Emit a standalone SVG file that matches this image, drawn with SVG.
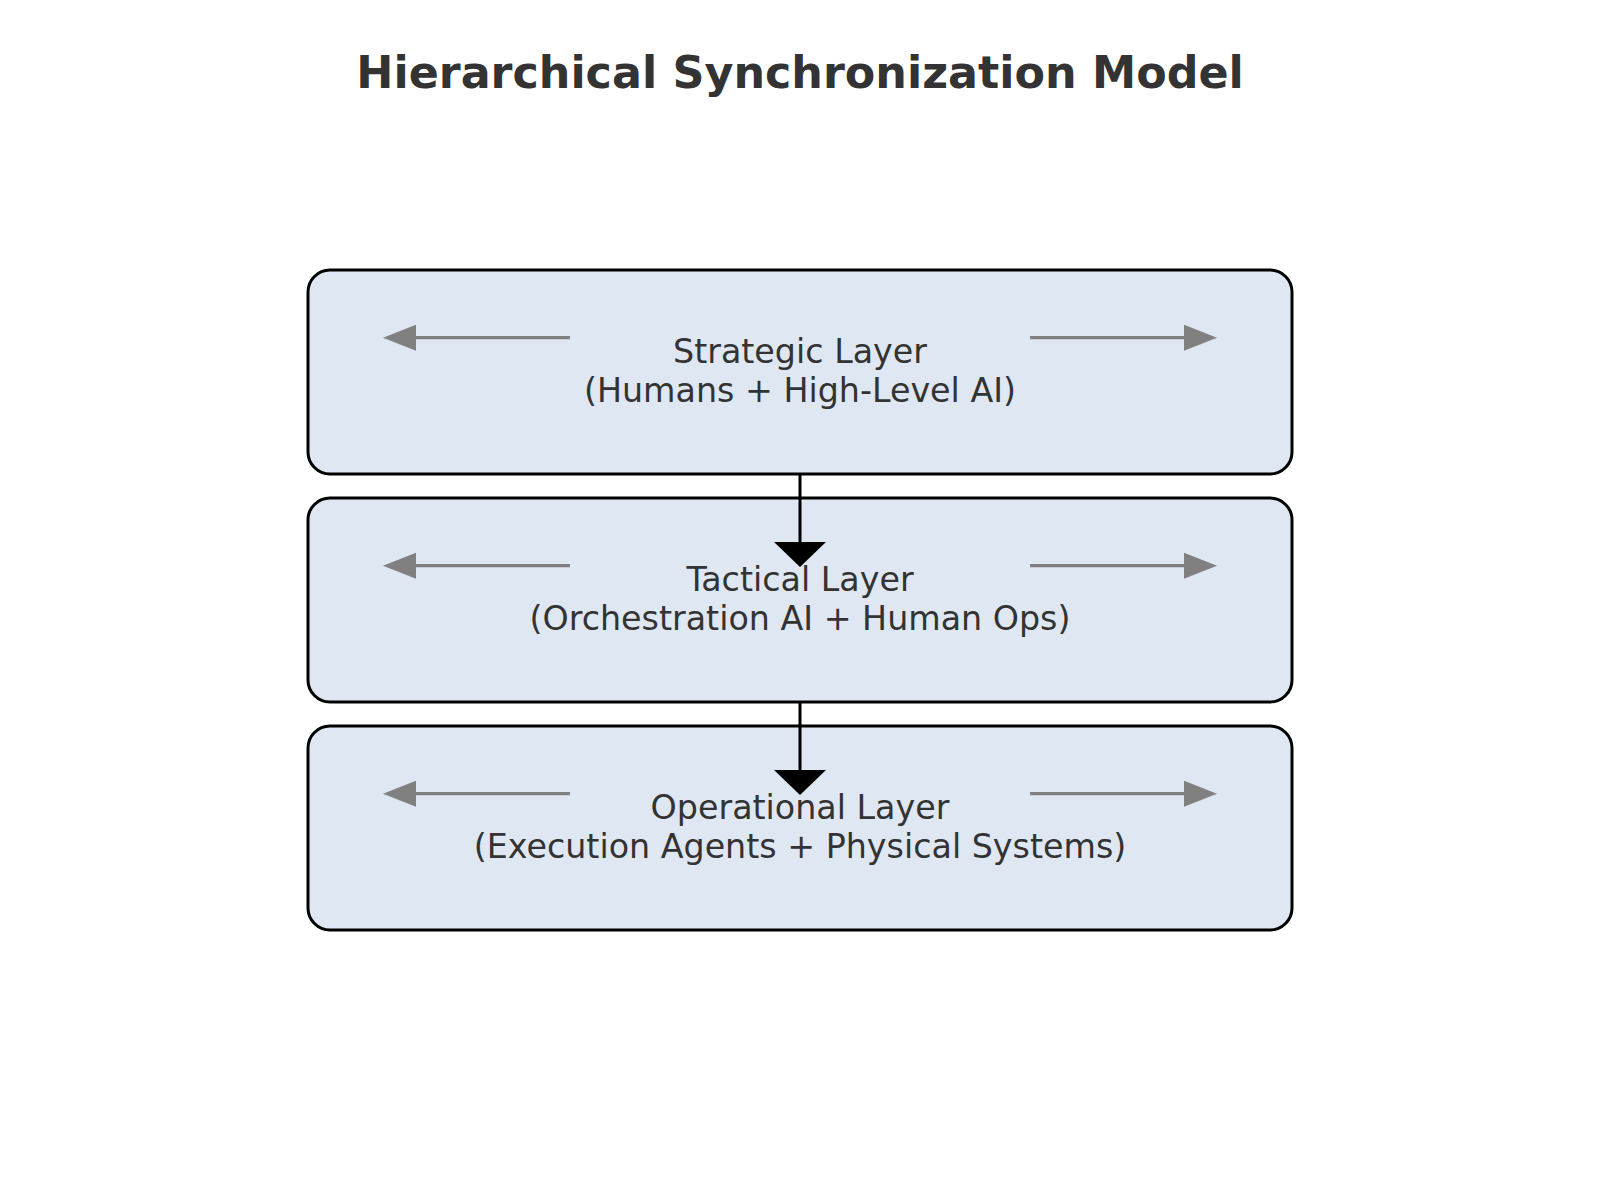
<svg xmlns="http://www.w3.org/2000/svg" width="1600" height="1200" viewBox="0 0 1600 1200">
<style>
.box{fill:#dfe8f2;stroke:#000;stroke-width:3}
.lbl{font-family:"DejaVu Sans",sans-serif;font-size:33.3px;fill:#333;text-anchor:middle}
.title{font-family:"DejaVu Sans",sans-serif;font-size:44.4px;font-weight:bold;fill:#333;text-anchor:middle}
.sync{stroke:#808080;stroke-width:3.3;fill:none;marker-end:url(#grayHead)}
.flow{stroke:#000;stroke-width:3;fill:none;marker-end:url(#blackHead)}
</style>
<defs>
<marker id="grayHead" markerUnits="userSpaceOnUse" markerWidth="40" markerHeight="30" viewBox="0 -15 40 30" refX="0" refY="0" orient="auto" overflow="visible">
<path d="M0,-13 L33,0 L0,13 Z" fill="#808080"/>
</marker>
<marker id="blackHead" markerUnits="userSpaceOnUse" markerWidth="30" markerHeight="60" viewBox="0 -30 30 60" refX="0" refY="0" orient="auto" overflow="visible">
<path d="M0,-26 L25,0 L0,26 Z" fill="#000"/>
</marker>
</defs>
<rect width="1600" height="1200" fill="#fff"/>
<text class="title" x="800" y="88">Hierarchical Synchronization Model</text>

<g id="strategic">
<rect class="box" x="308" y="270" width="984" height="204" rx="22" ry="22"/>
<text class="lbl" x="800" y="363">Strategic Layer</text>
<text class="lbl" x="800" y="402">(Humans + High-Level AI)</text>
</g>
<g id="tactical">
<rect class="box" x="308" y="498" width="984" height="204" rx="22" ry="22"/>
<text class="lbl" x="800" y="591">Tactical Layer</text>
<text class="lbl" x="800" y="630">(Orchestration AI + Human Ops)</text>
</g>
<g id="operational">
<rect class="box" x="308" y="726" width="984" height="204" rx="22" ry="22"/>
<text class="lbl" x="800" y="819">Operational Layer</text>
<text class="lbl" x="800" y="858">(Execution Agents + Physical Systems)</text>
</g>

<g id="connectors">
<line class="sync" x1="570" y1="337.7" x2="416" y2="337.7"/>
<line class="sync" x1="1030" y1="337.7" x2="1184" y2="337.7"/>
<line class="sync" x1="570" y1="565.7" x2="416" y2="565.7"/>
<line class="sync" x1="1030" y1="565.7" x2="1184" y2="565.7"/>
<line class="sync" x1="570" y1="793.7" x2="416" y2="793.7"/>
<line class="sync" x1="1030" y1="793.7" x2="1184" y2="793.7"/>
<line class="flow" x1="800" y1="474" x2="800" y2="542"/>
<line class="flow" x1="800" y1="702" x2="800" y2="770"/>
</g>
</svg>
